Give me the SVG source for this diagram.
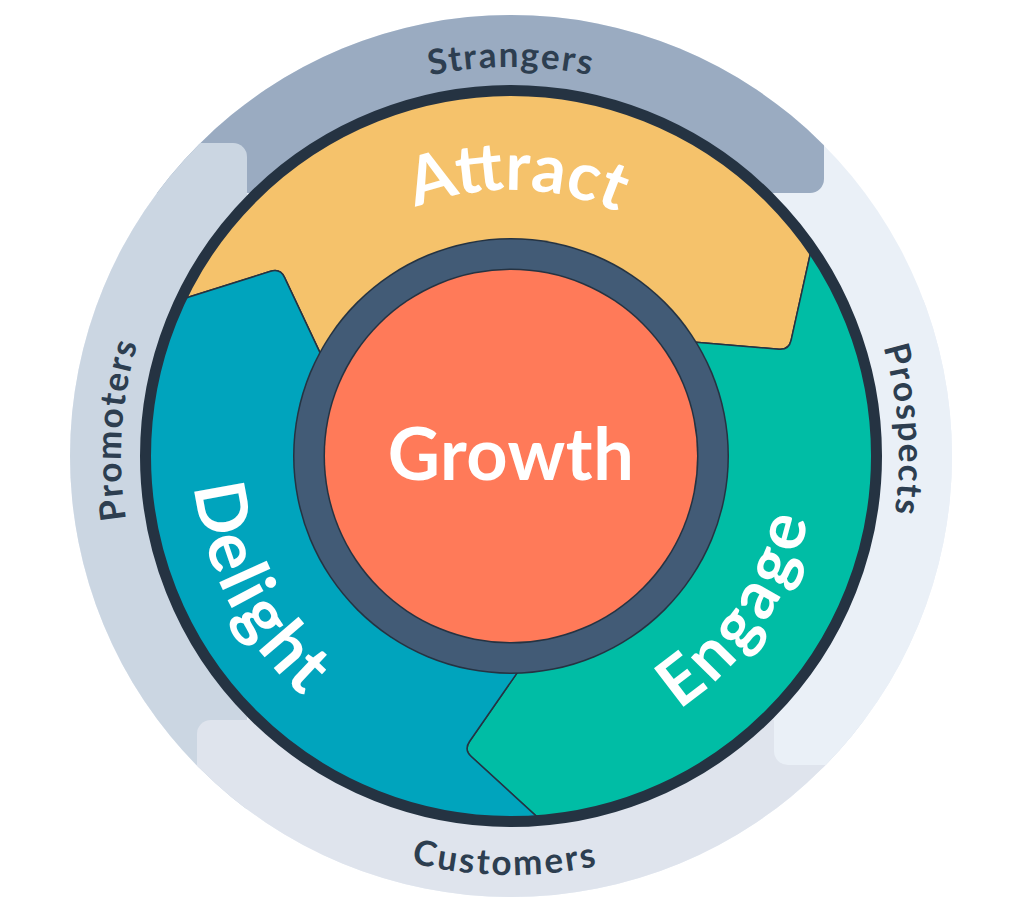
<svg xmlns="http://www.w3.org/2000/svg" width="1024" height="921" viewBox="0 0 1024 921">
<style>
.seg{stroke:#253342;stroke-width:1.5;stroke-linejoin:round}
.lbl{font-family:Lato,"Open Sans","Liberation Sans",sans-serif;font-weight:700;fill:#2d3e50;font-size:35px;letter-spacing:1.8px}
.big{font-family:Lato,"Open Sans","Liberation Sans",sans-serif;font-weight:700;fill:#ffffff;font-size:70px}
</style>
<defs>
<clipPath id="outer"><circle cx="511" cy="456" r="441"/></clipPath>
<path id="seg" d="M178.6,300.3 A367,367 0 0 1 812,246 L791.2,340.2 Q789,350 779,349.2 L693,342 A214.8,214.8 0 0 0 321.3,355.4 L284.5,277.3 Q280.2,268.3 270.7,271.3 L178.6,300.3 Z"/>
<path id="cw266" d="M245,456 A266,266 0 0 1 777,456"/>
<path id="cw389" d="M122,456 A389,389 0 0 1 900,456"/>
<path id="cw388" d="M123,456 A388,388 0 0 1 899,456"/>
<path id="cw390" d="M121,456 A390,390 0 0 1 901,456"/>
<path id="ccw304" d="M207,456 A304,304 0 0 0 815,456"/>
<path id="ccw318" d="M193,456 A318,318 0 0 0 829,456"/>
<path id="ccw419" d="M92,456 A419,419 0 0 0 930,456"/>
</defs>

<g id="outer-ring">
<circle cx="511" cy="456" r="441" fill="#eaf0f7"/>
<path id="band-strangers" clip-path="url(#outer)" fill="#9aabc1" d="M0,0 H824 V179 A14,14 0 0 1 810,193 H0 Z"/>
<path id="band-promoters" clip-path="url(#outer)" fill="#cbd6e2" d="M0,143 H233 A14,14 0 0 1 247,157 V921 H0 Z"/>
<path id="band-customers" clip-path="url(#outer)" fill="#dfe4ed" d="M211,720 H1024 V921 H197 V734 A14,14 0 0 1 211,720 Z"/>
<path id="band-prospects" clip-path="url(#outer)" fill="#eaf0f7" d="M774,300 H1024 V765 H788 A14,14 0 0 1 774,751 Z"/>
</g>

<g id="segments">
<use id="attract-seg" href="#seg" class="seg" fill="#f5c26b"/>
<use id="engage-seg" href="#seg" class="seg" fill="#00bda5" transform="rotate(120 511 456)"/>
<use id="delight-seg" href="#seg" class="seg" fill="#00a4bd" transform="rotate(240 511 456)"/>
</g>

<circle id="rim" cx="511" cy="456" r="365.5" fill="none" stroke="#253342" stroke-width="11"/>

<g id="growth">
<circle cx="511" cy="456" r="218" fill="#253342"/>
<circle cx="511" cy="456" r="216.5" fill="#425b76"/>
<circle cx="511" cy="456" r="187.5" fill="#253342"/>
<circle cx="511" cy="456" r="186" fill="#ff7a59"/>
<text x="511" y="480" text-anchor="middle" class="big" style="font-size:72px;letter-spacing:0.5px">Growth</text>
</g>

<g id="labels-inner">
<text class="big" style="font-size:67px" transform="rotate(1.3 511 456)"><textPath href="#cw266" startOffset="50%" text-anchor="middle">Attract</textPath></text>
<text class="big" style="font-size:67px;letter-spacing:4px" transform="rotate(-56.1 511 456)"><textPath href="#ccw304" startOffset="50%" text-anchor="middle">Engage</textPath></text>
<text class="big" style="letter-spacing:2.5px" transform="rotate(62.5 511 456)"><textPath href="#ccw318" startOffset="50%" text-anchor="middle">Delight</textPath></text>
</g>

<g id="labels-outer">
<text class="lbl"><textPath href="#cw389" startOffset="50%" text-anchor="middle">Strangers</textPath></text>
<text class="lbl" transform="rotate(86.2 511 456)"><textPath href="#cw388" startOffset="50%" text-anchor="middle">Prospects</textPath></text>
<text class="lbl" style="letter-spacing:2.5px" transform="rotate(0.8 511 456)"><textPath href="#ccw419" startOffset="50%" text-anchor="middle">Customers</textPath></text>
<text class="lbl" transform="rotate(-86.2 511 456)"><textPath href="#cw390" startOffset="50%" text-anchor="middle">Promoters</textPath></text>
</g>
</svg>
